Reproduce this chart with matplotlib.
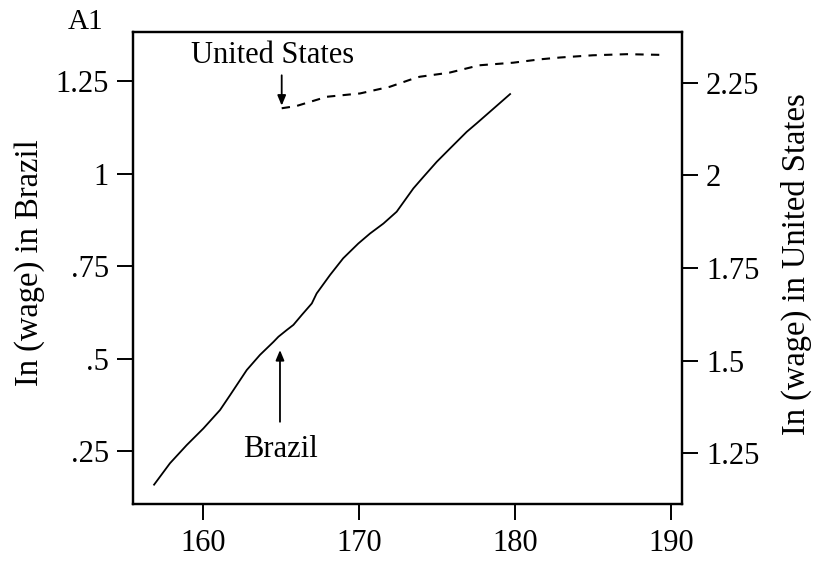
import matplotlib
matplotlib.use("Agg")
import matplotlib.pyplot as plt

plt.rcParams['font.family'] = ['Liberation Serif', 'DejaVu Serif']

# ---- data ----
brazil_x = [156.88, 157.9, 158.97, 160.04, 161.11, 161.75, 162.82, 163.67, 164.53,
            164.85, 165.38, 165.81, 166.35, 166.99, 167.3, 168.16, 169.0, 169.97,
            170.72, 171.58, 172.43, 173.5, 174.14, 175.0, 175.85, 176.92, 177.56,
            178.4, 179.7]
brazil_y = [0.159, 0.217, 0.266, 0.311, 0.361, 0.401, 0.469, 0.510, 0.545,
            0.559, 0.577, 0.591, 0.618, 0.649, 0.676, 0.726, 0.771, 0.811,
            0.838, 0.865, 0.897, 0.960, 0.991, 1.032, 1.068, 1.113, 1.136,
            1.167, 1.215]

us_x = [165.06, 166.0, 167.95, 170.08, 171.99, 173.5, 173.9, 175.8, 177.73,
        179.9, 181.6, 182.9, 185.0, 187.2, 189.5]
us_y = [2.181, 2.187, 2.212, 2.221, 2.239, 2.261, 2.266, 2.277, 2.297,
        2.304, 2.313, 2.318, 2.324, 2.327, 2.325]

x_ticks = [160, 170, 180, 190]
left_ticks = [0.25, 0.5, 0.75, 1, 1.25]
left_labels = ['.25', '.5', '.75', '1', '1.25']
right_ticks = [1.25, 1.5, 1.75, 2, 2.25]
right_labels = ['1.25', '1.5', '1.75', '2', '2.25']

FS = 22
LFS = 23.5

fig = plt.figure(figsize=(8.17, 5.62), dpi=100)
ax = fig.add_axes([0.1632, 0.1027, 0.6712, 0.8398])
ax2 = ax.twinx()

ax.plot(brazil_x, brazil_y, color='black', lw=1.3)
ax2.plot(us_x, us_y, color='black', lw=1.5, dashes=(4, 3.5))

ax.set_xlim(155.55, 190.7)
ax.set_ylim(0.106, 1.382)
ax2.set_ylim(1.112, 2.386)

ax.set_xticks(x_ticks)
ax.set_yticks(left_ticks)
ax.set_yticklabels(left_labels)
ax2.set_yticks(right_ticks)
ax2.set_yticklabels(right_labels)

for a in (ax, ax2):
    for s in a.spines.values():
        s.set_linewidth(1.6)
    a.tick_params(direction='out', length=11.5, width=1.4, labelsize=FS, pad=6)

# axis titles placed by hand (pixel centres from the reference)
fig.text(30 / 817, 1 - 263 / 562, 'In (wage) in Brazil', fontsize=LFS,
         rotation=90, ha='center', va='center')
fig.text(796 / 817, 1 - 264 / 562, 'In (wage) in United States', fontsize=LFS,
         rotation=90, ha='center', va='center')

# annotations
ax.annotate('', xy=(164.95, 0.523), xytext=(164.95, 0.329),
            arrowprops=dict(arrowstyle='-|>,head_length=0.6,head_width=0.25',
                            color='black', lw=1.3, shrinkA=0, shrinkB=0))
ax.text(164.95, 0.253, 'Brazil', fontsize=FS, ha='center', va='center')

ax2.annotate('', xy=(165.06, 2.188), xytext=(165.06, 2.270),
             arrowprops=dict(arrowstyle='-|>,head_length=0.6,head_width=0.25',
                             color='black', lw=1.3, shrinkA=0, shrinkB=0))
ax2.text(164.47, 2.324, 'United States', fontsize=FS, ha='center', va='center')

fig.text(0.105, 0.961, 'A1', fontsize=FS - 1, ha='center', va='center')

fig.savefig('out.png', dpi=100)
